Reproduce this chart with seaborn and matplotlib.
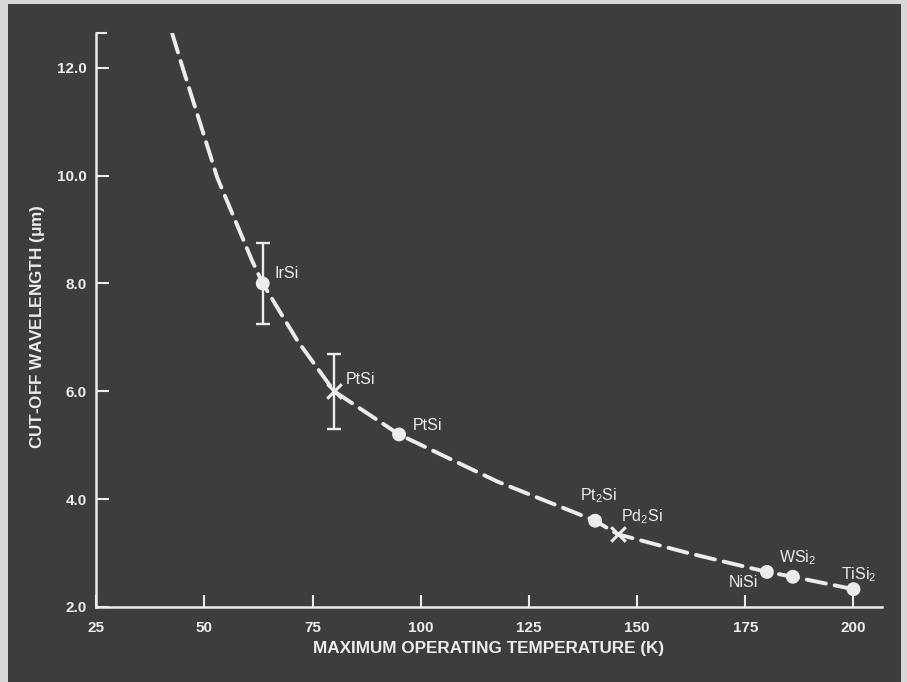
import matplotlib
matplotlib.use("Agg")
import matplotlib.pyplot as plt
from matplotlib.patches import Rectangle
import seaborn as sns
import pandas as pd

# dashed trend curve
curve_temp = [42.6, 45.0, 53.0, 61.0, 63.5, 71.5, 80.0, 95.0, 117.6, 140.3, 145.5, 161.8, 180.0, 186.0, 200.0]
curve_wave = [12.63, 12.0, 9.96, 8.43, 8.0, 6.94, 6.0, 5.2, 4.33, 3.6, 3.35, 3.0, 2.65, 2.56, 2.33]

# measured silicides
dot_names = ["IrSi", "PtSi", r"Pt$_2$Si", "NiSi", r"WSi$_2$", r"TiSi$_2$"]
dot_temp = [63.5, 95.0, 140.3, 180.0, 186.0, 200.0]
dot_wave = [8.0, 5.2, 3.6, 2.65, 2.56, 2.33]

cross_names = ["PtSi", r"Pd$_2$Si"]
cross_temp = [80.0, 145.5]
cross_wave = [6.0, 3.35]

# error bars (IrSi and PtSi cross)
err_temp = [63.5, 80.0]
err_wave = [8.0, 6.0]
err_size = [0.75, 0.7]

x_ticks = [25, 50, 75, 100, 125, 150, 175, 200]
y_ticks = [2.0, 4.0, 6.0, 8.0, 10.0, 12.0]

bg = "#3d3d3d"
fg = "#ececec"

sns.set_style("ticks")
plt.rcParams["font.family"] = ["Liberation Sans", "DejaVu Sans"]
plt.rcParams["mathtext.default"] = "regular"

fig = plt.figure(figsize=(9.07, 6.82), dpi=100, facecolor="#d8d8d8")
fig.patches.append(Rectangle((0.009, 0.0), 0.984, 0.994, transform=fig.transFigure,
                             facecolor=bg, edgecolor="none", zorder=-5))
ax = fig.add_axes([0.106, 0.110, 0.866, 0.842])
ax.patch.set_alpha(0)

curve = pd.DataFrame({"T": curve_temp, "L": curve_wave})
sns.lineplot(data=curve, x="T", y="L", sort=False, estimator=None, ax=ax,
             color=fg, linewidth=2.8, zorder=2)
ax.lines[-1].set_dashes((5, 2.3))
ax.lines[-1].set_dash_capstyle("round")

ax.errorbar(err_temp, err_wave, yerr=err_size, fmt="none", ecolor=fg,
            elinewidth=1.7, capsize=5, capthick=1.7, zorder=3)

dots = pd.DataFrame({"T": dot_temp, "L": dot_wave})
sns.scatterplot(data=dots, x="T", y="L", ax=ax, s=100, color=fg,
                edgecolor="none", zorder=4)
crosses = pd.DataFrame({"T": cross_temp, "L": cross_wave})
sns.scatterplot(data=crosses, x="T", y="L", ax=ax, marker="x", s=110,
                color=fg, linewidth=2.2, zorder=4)

# label offsets in pixels (dx, dy, ha)
dot_offsets = [(12, 10, "left"), (14, 9, "left"), (4, 25, "center"),
               (-9, -11, "right"), (5, 19, "center"), (5, 15, "center")]
cross_offsets = [(12, 12, "left"), (3, 18, "left")]
for name, t, w, (dx, dy, ha) in zip(dot_names, dot_temp, dot_wave, dot_offsets):
    ax.annotate(name, (t, w), xytext=(dx * 0.72, dy * 0.72), textcoords="offset points",
                ha=ha, va="center", color=fg, fontsize=11.5)
for name, t, w, (dx, dy, ha) in zip(cross_names, cross_temp, cross_wave, cross_offsets):
    ax.annotate(name, (t, w), xytext=(dx * 0.72, dy * 0.72), textcoords="offset points",
                ha=ha, va="center", color=fg, fontsize=11.5)

ax.set_xlim(25, 206.5)
ax.set_ylim(2.0, 12.65)
ax.set_xticks(x_ticks)
ax.set_xticklabels([str(v) for v in x_ticks])
ax.set_yticks(y_ticks)
ax.set_yticklabels([f"{v:.1f}" for v in y_ticks])
ax.set_yticks([12.65], minor=True)
ax.tick_params(axis="both", which="both", direction="in", length=9, width=1.5,
               colors=fg, labelsize=11, pad=6.5)
ax.tick_params(axis="x", pad=10)
ax.tick_params(axis="y", which="minor", length=8)
for lab in ax.get_xticklabels() + ax.get_yticklabels():
    lab.set_fontweight("bold")

sns.despine(ax=ax)
for side in ["left", "bottom"]:
    ax.spines[side].set_color(fg)
    ax.spines[side].set_linewidth(1.8)

ax.set_xlabel("MAXIMUM OPERATING TEMPERATURE (K)", color=fg, fontsize=12.3,
              fontweight="bold")
ax.set_ylabel(r"CUT-OFF WAVELENGTH ($\mu$m)", color=fg, fontsize=12.3,
              fontweight="bold")
ax.xaxis.set_label_coords(0.5, -0.060)
ax.yaxis.set_label_coords(-0.062, 0.488)

fig.savefig("out.png", dpi=100, facecolor=fig.get_facecolor())
